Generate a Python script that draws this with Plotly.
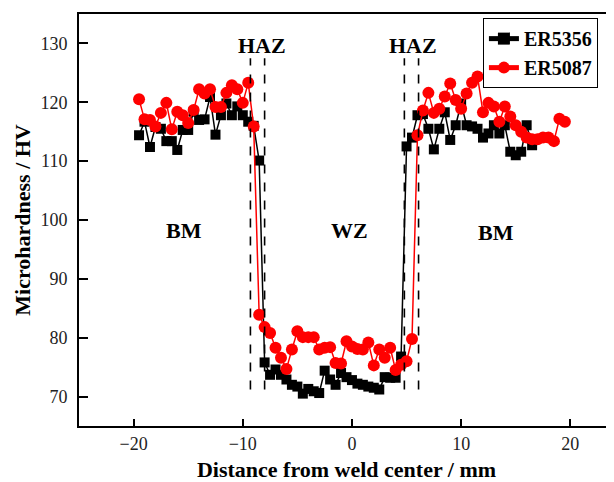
import numpy as np
import plotly.graph_objects as go

# positions along the weld (mm), 0.5 mm step
x_red = [-19.5 + 0.5 * i for i in range(79)]
x_black = [-19.5 + 0.5 * i for i in range(73)]

er5356 = [114.4, 116.7, 112.4, 115.8, 115.5, 113.4, 113.4, 111.9, 115.3, 115.3,
          118.4, 117.0, 117.1, 120.9, 114.5, 117.8, 119.8, 117.8, 119.3, 117.8,
          116.7, 116.0, 110.1, 75.8, 73.7, 74.6, 73.7, 72.9, 72.0, 71.7,
          70.5, 71.3, 70.9, 70.6, 74.4, 72.9, 72.0, 74.0, 73.3, 72.8,
          72.2, 72.0, 71.7, 71.5, 71.2, 73.3, 73.2, 73.2, 76.8, 112.5,
          114.0, 117.8, 118.0, 115.5, 112.0, 115.5, 118.3, 113.6, 116.1, 119.8,
          116.1, 115.9, 115.5, 114.0, 114.7, 116.1, 114.7, 116.1, 111.6, 111.0,
          111.6, 116.1, 112.7]

er5087 = [120.5, 117.1, 117.0, 115.9, 118.2, 119.9, 115.4, 118.4, 117.8, 116.5,
          118.7, 122.2, 121.5, 122.2, 119.2, 119.2, 121.6, 122.9, 122.2, 119.9,
          123.3, 115.9, 83.9, 81.8, 80.8, 78.3, 76.6, 74.7, 78.0, 81.1,
          80.1, 80.1, 80.1, 78.0, 78.3, 78.4, 75.7, 75.6, 79.4, 78.5,
          78.1, 78.0, 79.2, 75.3, 78.0, 76.6, 78.3, 74.5, 75.4, 76.0,
          79.8, 114.4, 118.6, 121.6, 118.2, 118.9, 121.0, 123.2, 120.4, 118.9,
          121.5, 123.3, 124.4, 118.3, 119.9, 119.3, 116.7, 119.3, 117.6, 116.1,
          115.0, 114.0, 113.7, 113.7, 114.0, 114.0, 113.4, 117.2, 116.7]

haz_bounds = [-9.3, -8.0, 4.8, 6.1]
x_ticks = [-20, -10, 0, 10, 20]
y_ticks = [70, 80, 90, 100, 110, 120, 130]

zone_labels = ["HAZ", "HAZ", "BM", "WZ", "BM"]
zone_x = [-8.26, 5.6, -15.4, -0.2, 13.2]
zone_y = [129.7, 129.7, 98.3, 98.3, 97.8]

SERIF = "Liberation Serif"

fig = go.Figure()
fig.add_trace(go.Scatter(
    x=x_black, y=er5356, name="ER5356", mode="lines+markers",
    line=dict(color="black", width=1.5),
    marker=dict(symbol="square", size=10, color="black"),
))
fig.add_trace(go.Scatter(
    x=x_red, y=er5087, name="ER5087", mode="lines+markers",
    line=dict(color="#ff0000", width=1.5),
    marker=dict(symbol="circle", size=12, color="#ff0000"),
))

for xb in haz_bounds:
    fig.add_shape(type="line", xref="x", yref="y", x0=xb, x1=xb, y0=71.2, y1=127.5,
                  line=dict(color="black", width=1.6, dash="dash"))

for t, xx, yy in zip(zone_labels, zone_x, zone_y):
    fig.add_annotation(x=xx, y=yy, xref="x", yref="y", text=t, showarrow=False,
                       font=dict(family=SERIF, size=22, color="black", weight="bold"))

fig.update_layout(
    width=606, height=474,
    margin=dict(l=71, r=0, t=6, b=56),
    plot_bgcolor="white", paper_bgcolor="white",
    font=dict(family=SERIF, color="black"),
    legend=dict(x=0.755, y=0.99, xanchor="left", yanchor="top",
                bordercolor="black", borderwidth=1, bgcolor="white",
                font=dict(family=SERIF, size=20, color="black", weight="bold"),
                tracegroupgap=0, itemsizing="constant"),
    showlegend=True,
)
fig.update_xaxes(
    range=[-25, 24.0], tickvals=x_ticks, ticks="inside", ticklen=7, tickwidth=2,
    tickcolor="black", showline=True, linecolor="black", linewidth=2, mirror=True,
    showgrid=False, zeroline=False,
    tickfont=dict(family=SERIF, size=18, color="#222"), ticklabelstandoff=0,
    title=dict(text="Distance from weld center / mm", standoff=10,
               font=dict(family=SERIF, size=22, color="black", weight="bold")),
    automargin=False,
)
fig.update_yaxes(
    range=[65, 135], tickvals=y_ticks, ticks="inside", ticklen=9, tickwidth=2,
    tickcolor="black", showline=True, linecolor="black", linewidth=2, mirror=False,
    showgrid=False, zeroline=False,
    tickfont=dict(family=SERIF, size=18, color="#222"), ticklabelstandoff=6,
    title=dict(text="Microhardness / HV", standoff=4,
               font=dict(family=SERIF, size=22, color="black", weight="bold")),
    automargin=False,
)

fig.write_html("out.html")
